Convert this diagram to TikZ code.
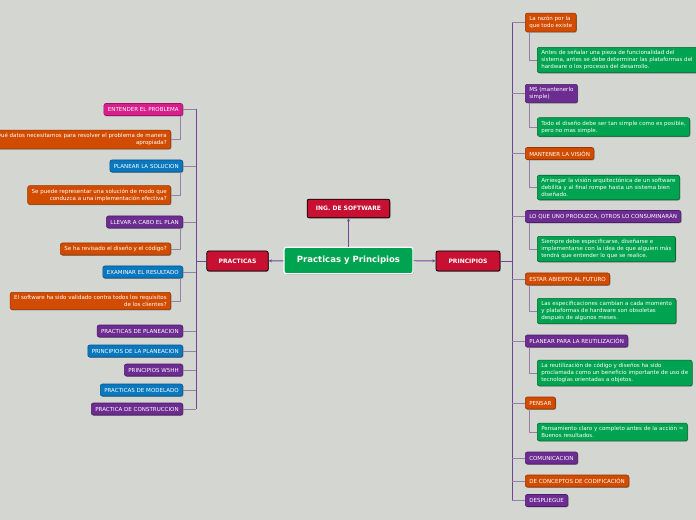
\documentclass[tikz,border=0pt]{standalone}
\usepackage{fontspec}
\setmainfont{DejaVu Sans}
\usetikzlibrary{arrows.meta,shadows}
\definecolor{bgc}{RGB}{212,214,210}
\definecolor{grn}{RGB}{0,164,80}
\definecolor{grndk}{RGB}{0,105,50}
\definecolor{crm}{RGB}{200,16,50}
\definecolor{orn}{RGB}{210,76,0}
\definecolor{orndk}{RGB}{150,55,0}
\definecolor{prp}{RGB}{108,44,145}
\definecolor{prpdk}{RGB}{75,30,105}
\definecolor{blu}{RGB}{10,120,190}
\definecolor{bludk}{RGB}{5,85,140}
\definecolor{pnk}{RGB}{215,30,140}
\definecolor{pnkdk}{RGB}{160,20,100}
\definecolor{trk}{RGB}{112,72,145}
\definecolor{twg}{RGB}{150,128,170}
\tikzset{box/.style = {rounded corners=1.5pt, text=white, line width=0.4pt,
                       font=\fontsize{4.15}{5.2}\selectfont, inner xsep=3pt, inner ysep=2.3pt,
                       minimum height=9pt,
                       drop shadow={shadow xshift=0.5pt, shadow yshift=-0.6pt, fill=black, opacity=0.35}},
         orbox/.style = {box, fill=orn, draw=orndk},
         prbox/.style = {box, fill=prp, draw=prpdk},
         blbox/.style = {box, fill=blu, draw=bludk},
         pkbox/.style = {box, fill=pnk, draw=pnkdk},
         gnbox/.style = {box, fill=grn, draw=grndk},
         crbox/.style = {box, fill=crm, draw=black, line width=0.6pt,
                         font=\fontsize{4.5}{5.5}\selectfont\bfseries},
         trunk/.style = {draw=trk, line width=0.7pt},
         twig/.style = {draw=twg, line width=0.5pt}}

\begin{document}
\begin{tikzpicture}[x=0.75pt,y=-0.75pt]
    \fill[bgc](0,0)rectangle(696,520);
    \useasboundingbox(0,0)rectangle(696,520);

    % center and main branches
    \node[box, fill=grn, draw=white, line width=0.9pt, rounded corners=2pt,
          font=\fontsize{6.4}{7.5}\selectfont\bfseries,
          minimum width=96.75pt, minimum height=20pt](ctr)at(348.5,260.5){Practicas y Principios};
    \node[crbox, minimum width=62pt, minimum height=14pt](ing)at(348.5,208.5){ING. DE SOFTWARE};
    \node[crbox, minimum width=46pt, minimum height=15pt](prac)at(237.5,261){PRACTICAS};
    \node[crbox, minimum width=48pt, minimum height=15pt](prin)at(468,261){PRINCIPIOS};

    \draw[trunk,-{Stealth[length=2.5pt,width=2.2pt]}](ctr)--(ing);
    \draw[trunk,-{Stealth[length=2.5pt,width=2.2pt]}](ctr)--(prac);
    \draw[trunk,-{Stealth[length=2.5pt,width=2.2pt]}](ctr)--(prin);

    % practicas side
    \coordinate(lt)at(196,0);
    \node[pkbox, anchor=east](p1)at(183,109.5){ENTENDER EL PROBLEMA};
    \node[blbox, anchor=east](p2)at(183,166){PLANEAR LA SOLUCION};
    \node[prbox, anchor=east](p3)at(183,222){LLEVAR A CABO EL PLAN};
    \node[blbox, anchor=east](p4)at(183,272){EXAMINAR EL RESULTADO};
    \node[prbox, anchor=east](p5)at(183,331){PRACTICAS DE PLANEACION};
    \node[blbox, anchor=east](p6)at(183,351){PRINCIPIOS DE LA PLANEACION};
    \node[prbox, anchor=east](p7)at(183,370){PRINCIPIOS W5HH};
    \node[blbox, anchor=east](p8)at(183,390){PRACTICAS DE MODELADO};
    \node[prbox, anchor=east](p9)at(183,409){PRACTICA DE CONSTRUCCION};

    \node[orbox, anchor=east, align=right](q1)at(171,139.5){Qué datos necesitamos para resolver el problema de manera\\apropiada?};
    \node[orbox, anchor=east, align=right](q2)at(171,195){Se puede representar una solución de modo que\\conduzca a una implementación efectiva?};
    \node[orbox, anchor=east, align=right](q3)at(171,249){Se ha revisado el diseño y el código?};
    \node[orbox, anchor=east, align=right](q4)at(171,301){El software ha sido validado contra todos los requisitos\\de los clientes?};

    \draw[trunk](prac.west)--(prac.west-|lt);
    \draw[trunk](p1.east-|lt)--(p9.east-|lt);
    \draw[twig](p1.east)--(p1.east-|lt);
    \draw[twig](p2.east)--(p2.east-|lt);
    \draw[twig](p3.east)--(p3.east-|lt);
    \draw[twig](p4.east)--(p4.east-|lt);
    \draw[twig](p5.east)--(p5.east-|lt);
    \draw[twig](p6.east)--(p6.east-|lt);
    \draw[twig](p7.east)--(p7.east-|lt);
    \draw[twig](p8.east)--(p8.east-|lt);
    \draw[twig](p9.east)--(p9.east-|lt);
    \draw[twig]([xshift=-2.25pt]p1.south east)|-(q1.east);
    \draw[twig]([xshift=-2.25pt]p2.south east)|-(q2.east);
    \draw[twig]([xshift=-2.25pt]p3.south east)|-(q3.east);
    \draw[twig]([xshift=-2.25pt]p4.south east)|-(q4.east);

    % principios side
    \coordinate(rt)at(512,0);
    \node[orbox, anchor=west, align=left](r1)at(525,22.5){La razón por la\\que todo existe};
    \node[prbox, anchor=west, align=left](r2)at(525,93.5){MS (mantenerlo\\simple)};
    \node[orbox, anchor=west](r3)at(525,153.5){MANTENER LA VISIÓN};
    \node[prbox, anchor=west](r4)at(525,216.5){LO QUE UNO PRODUZCA, OTROS LO CONSUMINARÁN};
    \node[orbox, anchor=west](r5)at(525,279){ESTAR ABIERTO AL FUTURO};
    \node[prbox, anchor=west](r6)at(525,341){PLANEAR PARA LA REUTILIZACIÓN};
    \node[orbox, anchor=west](r7)at(525,403){PENSAR};
    \node[prbox, anchor=west](r8)at(525,458){COMUNICACION};
    \node[orbox, anchor=west](r9)at(525,481){DE CONCEPTOS DE CODIFICACIÓN};
    \node[prbox, anchor=west](r10)at(525,500.5){DESPLIEGUE};

    \node[gnbox, anchor=west, align=left](s1)at(537,60){Antes de señalar una pieza de funcionalidad del\\sistema, antes se debe determinar las plataformas del\\hardware o los procesos del desarrollo.};
    \node[gnbox, anchor=west, align=left](s2)at(537,127){Todo el diseño debe ser tan simple como es posible,\\pero no mas simple.};
    \node[gnbox, anchor=west, align=left](s3)at(537,187.5){Arriesgar la visión arquitectónica de un software\\debilita y al final rompe hasta un sistema bien\\diseñado.};
    \node[gnbox, anchor=west, align=left](s4)at(537,249){Siempre debe especificarse, diseñarse e\\implementarse con la idea de que alguien más\\tendrá que entender lo que se realice.};
    \node[gnbox, anchor=west, align=left](s5)at(537,311){Las especificaciones cambian a cada momento\\y plataformas de hardware son obsoletas\\después de algunos meses.};
    \node[gnbox, anchor=west, align=left](s6)at(537,373){La reutilización de código y diseños ha sido\\proclamada como un beneficio importante de uso de\\tecnologías orientadas a objetos.};
    \node[gnbox, anchor=west, align=left](s7)at(537,432){Pensamiento claro y completo antes de la acción =\\Buenos resultados.};

    \draw[trunk](prin.east)--(prin.east-|rt);
    \draw[trunk](r1.west-|rt)--(r10.west-|rt);
    \draw[twig](r1.west)--(r1.west-|rt);
    \draw[twig](r2.west)--(r2.west-|rt);
    \draw[twig](r3.west)--(r3.west-|rt);
    \draw[twig](r4.west)--(r4.west-|rt);
    \draw[twig](r5.west)--(r5.west-|rt);
    \draw[twig](r6.west)--(r6.west-|rt);
    \draw[twig](r7.west)--(r7.west-|rt);
    \draw[twig](r8.west)--(r8.west-|rt);
    \draw[twig](r9.west)--(r9.west-|rt);
    \draw[twig](r10.west)--(r10.west-|rt);
    \draw[twig]([xshift=3pt]r1.south west)|-(s1.west);
    \draw[twig]([xshift=3pt]r2.south west)|-(s2.west);
    \draw[twig]([xshift=3pt]r3.south west)|-(s3.west);
    \draw[twig]([xshift=3pt]r4.south west)|-(s4.west);
    \draw[twig]([xshift=3pt]r5.south west)|-(s5.west);
    \draw[twig]([xshift=3pt]r6.south west)|-(s6.west);
    \draw[twig]([xshift=3pt]r7.south west)|-(s7.west);
\end{tikzpicture}
\end{document}
